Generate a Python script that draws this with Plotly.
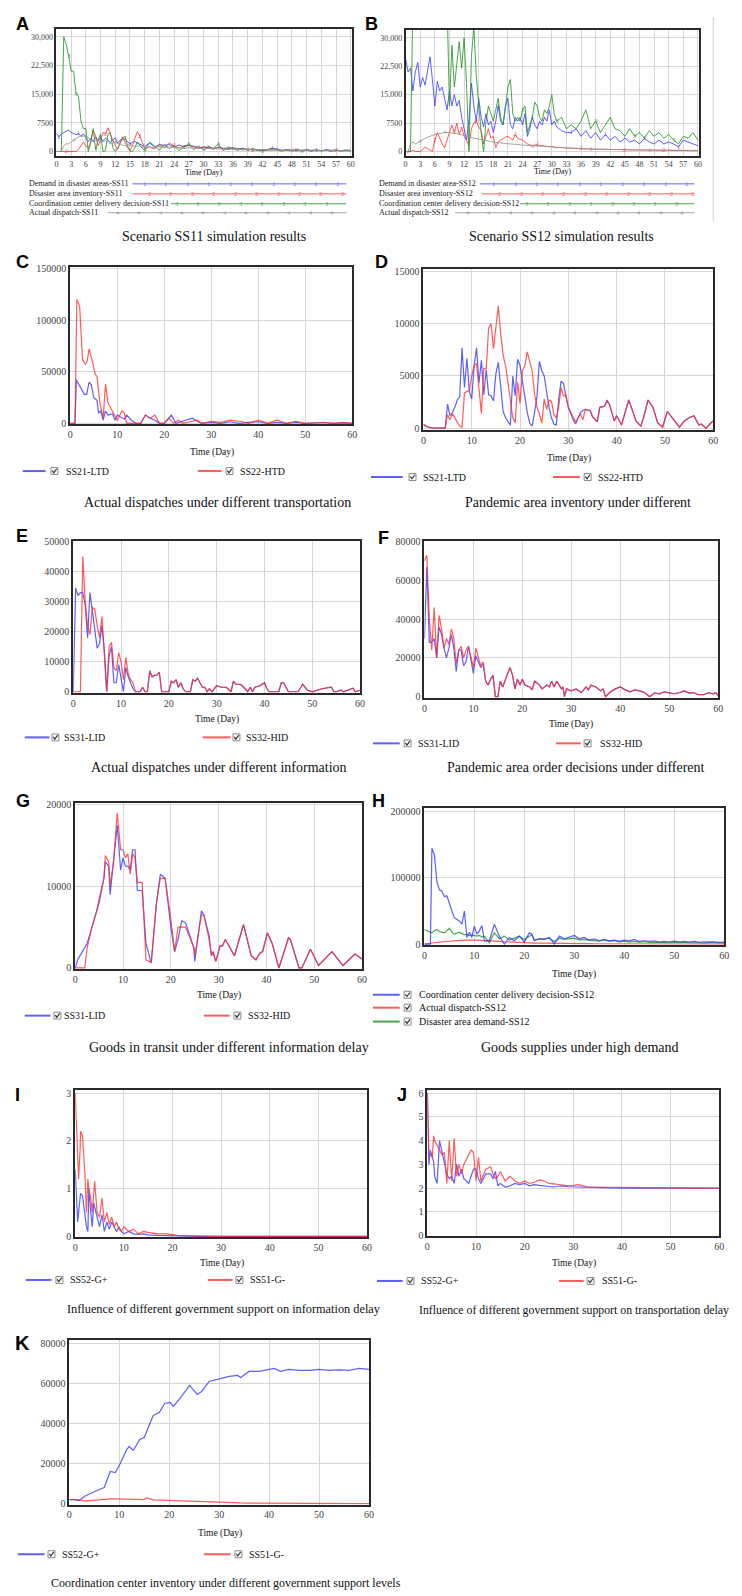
import plotly.graph_objects as go

W, H = 742, 1596

# ===================== DATA =====================
# ---- Panel A : Scenario SS11 ----
A_t = [0,0.5,1,1.5,2,2.5,3,3.5,4,4.5,5,5.5,6,6.5,7,7.5,8,8.5,9,9.5,10,10.5,11,11.5,12,12.5,13,13.5,14,14.5,15,15.5,16,16.5,17,17.5,18,19,20,21,22,23,24,25,26,27,28,29,30,31,32,33,34,35,36,37,38,39,40,41,42,43,44,45,46,47,48,49,50,51,52,53,54,55,56,57,58,59,60]
A_demand = [4800,3800,4600,5000,5200,5600,5000,4800,4400,4700,4000,4600,3500,2600,3400,2500,3800,2800,3600,2800,3500,3000,2400,3000,3600,2200,3000,3300,3200,2600,2000,2400,2600,2200,1900,1600,1300,2200,1200,1800,1600,1800,1200,1700,1200,1600,1300,1100,1000,1200,800,1100,800,900,1000,700,800,500,600,300,500,400,800,700,300,500,300,500,200,500,300,400,200,500,300,400,200,400,300]
A_inventory = [0,0,0,0,0,0,0,0,0,500,1500,2500,1500,800,2500,5500,4000,1500,3000,5000,4500,6200,4500,3000,1500,500,2500,3800,2500,1000,200,1500,3500,5200,4000,2500,800,1200,600,2000,1000,2200,1500,800,1500,1600,1200,800,1300,1000,600,1100,700,500,900,600,400,700,300,500,200,400,300,500,200,300,100,300,200,300,100,300,200,300,100,300,200,300,200]
A_coord = [0,0,0,30000,28000,25000,21000,21000,15000,14500,8000,6000,6000,0,2500,6000,500,3000,4500,0,200,4500,5000,1000,0,800,2000,3500,4000,1500,0,0,1000,2500,1500,800,200,2500,1500,300,1800,800,1500,200,1200,2000,500,1500,300,1200,800,2000,200,1000,700,300,900,200,800,300,100,600,900,300,100,500,200,400,100,300,100,400,100,300,100,300,100,200,100]
A_actual = [0,0,0,1500,2000,2000,2500,3000,3500,3800,4000,4000,4200,3500,3000,3000,3000,2700,2500,2600,2800,2400,2000,2200,2500,2100,1800,1600,1500,1700,1800,1500,1200,1400,1500,1200,1000,1200,1000,1300,1000,1200,900,1100,800,1000,800,900,700,750,800,700,600,650,700,600,500,500,500,450,400,450,500,400,300,350,400,350,300,300,300,280,250,280,300,250,200,200,200]

# ---- Panel B : Scenario SS12 ----
B_t = [0,0.5,1,1.5,2,2.5,3,3.5,4,4.5,5,5.5,6,6.5,7,7.5,8,8.5,9,9.5,10,10.5,11,11.5,12,12.5,13,13.5,14,14.5,15,15.5,16,16.5,17,17.5,18,18.5,19,19.5,20,20.5,21,21.5,22,22.5,23,23.5,24,24.5,25,25.5,26,26.5,27,27.5,28,28.5,29,29.5,30,30.5,31,32,33,34,35,36,37,38,39,40,41,42,43,44,45,46,47,48,49,50,51,52,53,54,55,56,57,58,59,60]
B_demand = [24500,21000,22000,16000,21000,23500,17000,19500,17500,21000,25000,19000,12000,18500,16000,17000,14000,11000,16000,12000,15000,12000,13500,9000,6000,3000,8000,18000,12000,8000,14000,9000,6500,10000,7000,8000,5000,8000,12000,8000,7000,12000,14000,7000,6000,9000,8000,9000,7000,10000,4000,6000,9000,7000,6000,8000,7000,9000,8000,11000,7000,8000,6500,5500,5000,5000,6000,4000,5500,3500,5000,3000,4500,3000,4000,2500,3500,2500,3000,2000,3500,2500,2000,3000,2000,2500,2000,1200,3000,2500,2000,1500]
B_inventory = [0,0,0,300,0,0,0,500,1200,800,500,0,3000,5000,3500,2000,1000,3000,5500,7000,5000,7500,4500,6500,4000,3000,1500,6000,7500,8000,6500,5500,2000,4000,6000,3500,4000,1000,2500,3000,3500,3800,4000,3500,3000,4500,3500,3200,3000,2500,2000,1800,1500,1700,1800,1600,1500,1400,1200,1250,1300,1100,1000,1100,900,900,800,800,700,700,600,600,550,500,500,500,450,400,400,400,350,300,300,300,300,300,250,200,200,200,200,200]
B_coord = [0,0,0,40000,40000,40000,40000,40000,40000,40000,40000,40000,40000,40000,40000,40000,40000,40000,12000,28000,17000,24000,29000,22000,30000,18000,0,25000,33000,20000,12000,5000,0,8000,12000,10000,8000,11000,14000,9000,7000,12000,17000,19000,10000,8000,9000,8000,11000,12000,5000,7000,9000,13000,12000,9000,8000,11000,10000,12000,15000,10000,8000,9000,6000,7000,6000,8000,11000,6000,8000,5000,7000,9000,6000,5500,4000,6000,4000,5000,3500,5500,4000,5000,3500,4500,3000,2000,4000,3500,5000,3000]
B_actual = [0,0,2000,2500,2000,2300,2800,3100,3500,3800,4000,4200,4500,4600,4800,4900,5000,5000,5000,4900,4800,4700,4500,4400,4200,4100,4000,3700,3500,3400,3200,3100,3000,2900,2700,2600,2500,2400,2300,2250,2200,2100,2050,2000,2000,1900,1850,1800,1700,1650,1600,1550,1500,1450,1400,1350,1300,1250,1200,1150,1100,1050,1000,950,900,850,800,700,700,650,600,600,550,550,520,500,500,480,450,430,400,400,380,360,340,320,300,300,300,300,300,300]

# ---- Panel C : actual dispatches, transportation delay ----
C_t = [0,1,1.3,1.8,2.2,3,3.5,4,4.5,5,5.7,6,6.5,7,7.5,8,9,9.5,10,11,11.5,12,13,14,15,16,17,18,19,20,21,21.5,22.5,24,26,27,28,30,32,34,36,38,40,42,44,46,48,50,52,54,56,58,60]
C_ltd = [0,0,42000,38000,35000,28000,28000,40000,37000,25000,22000,10000,12000,3000,12000,8000,9000,3000,8000,5000,4000,8000,3000,0,0,8000,5000,3000,0,0,5000,8000,0,2000,5000,2000,0,1000,0,1500,0,1000,1500,0,1000,0,1000,0,500,800,0,500,0]
C2_t = [0,1,1.4,2,2.6,3.2,3.6,4,4.7,5.3,5.7,6.3,7,7.5,8,9,10,11,11.5,12,13,14,15,16,17,18,19,20,21,22,23,24,26,27,28,30,32,34,36,38,40,42,44,46,48,50,52,54,56,58,60]
C_htd = [0,0,120000,113000,62000,57000,60000,72000,60000,48000,45000,20000,5000,38000,20000,12000,3000,12000,10000,0,0,0,0,8000,5000,8000,0,0,5000,0,3000,0,2000,3000,0,2000,1000,3000,2000,0,3000,0,3000,0,2000,0,500,1000,0,1000,0]

# ---- Panel D : pandemic area inventory, transportation delay ----
D_t = [0,1,2,4.5,5,5.5,6,6.5,7,7.5,8,8.5,9,9.5,10,10.5,11,11.5,12,12.5,13,13.5,14,14.5,15,15.5,16,16.5,17,18,18.5,19,19.5,20,20.5,21,21.5,22,22.5,23,23.5,24,24.5,25,25.5,26,26.5,27,27.5,28,28.5,29,29.5,30,31,31.5,32.5,33,33.5,34.5,35,36,36.5,37.5,38,38.5,39.5,40,41,41.5,42,42.5,43.5,44,45,45.5,46.5,47.5,48.5,49.5,50.5,51.5,53,54,55,56,57,57.5,58.5,59.5,60]
D_ltd = [300,100,0,0,2300,1200,1500,2000,2700,3000,7700,3900,6700,3500,2800,6000,7700,4300,6500,3200,5600,3200,3100,2600,5200,6300,4000,1600,1000,300,5000,3100,6600,6000,4500,3000,1500,500,200,1500,3000,6400,5500,5000,3500,2000,1000,400,300,2800,4500,4300,3000,2000,800,400,1500,1700,1800,1700,1100,600,2000,2100,2700,2300,700,1200,300,1100,1700,2700,1400,700,200,900,2700,2000,500,100,1600,1000,100,700,1000,1200,300,400,0,500,700]
D_htd = [400,100,0,0,1300,800,1400,1000,600,200,100,3400,3500,3600,5000,6000,6200,3400,1400,5700,5700,9600,10000,7600,9500,11700,9000,7000,6000,2400,1000,500,4400,2400,5500,6000,7300,6400,5500,3300,2000,1400,500,2800,1800,2700,2600,1300,1000,2000,3900,3100,3200,2000,1000,600,1400,800,1800,1700,1100,600,2000,2100,2600,2300,700,1200,300,1100,1700,2700,1400,700,200,900,2700,2000,500,100,1600,1000,100,700,1000,1200,300,400,0,500,700]

# ---- Panel E : actual dispatches, information delay ----
E_t = [0,0.5,1,1.5,2,2.5,3,3.5,4,4.5,5,5.5,6,6.5,7,7.5,8,8.5,9,9.5,10,10.5,11,11.5,12,12.5,13,14,14.5,15,15.5,16,16.5,17,17.5,18,18.5,20,20.5,21,21.5,22,22.5,23,23.5,24.5,25,25.5,26,27,27.5,28,28.5,29,30,31,32,33,33.5,34,35,36,36.5,37,37.5,38,39,40,40.5,41,43,43.5,44,45,47,48,49,50,51,52,54,54.5,55,56,56.5,58,58.5,59,60]
E_lid = [0,34500,32000,33000,33000,29000,18000,33000,27000,21000,14500,16000,22000,14000,0,12000,15000,3000,3000,9000,5000,0,8000,5000,3000,1000,0,0,1500,0,0,7000,5000,5500,5500,6500,0,0,3500,3000,4000,1500,3000,1000,0,0,4000,3500,4500,1500,1500,0,1000,0,2000,1500,1500,0,3500,2500,2500,1000,0,1500,0,1500,2000,3000,1000,0,0,3000,3000,0,0,2500,500,0,500,1000,1500,0,0,500,0,1000,1200,0,500]
E_hid = [0,0,0,0,45000,30000,22000,19000,28000,27500,22000,18000,25000,14000,0,15000,16500,8000,7000,13000,10000,4000,11500,6000,4000,3000,0,0,1500,0,0,7000,5000,5500,5500,6500,0,0,3500,3000,4000,1500,3000,1000,0,0,4000,3500,4500,1500,1500,0,1000,0,2000,1500,1500,0,3500,2500,2500,1000,0,1500,0,1500,2000,3000,1000,0,0,3000,3000,0,0,2500,500,0,500,1000,1500,0,0,500,0,1000,1200,0,500]

# ---- Panel F : pandemic area order decisions, information delay ----
F_t = [0,0.5,1,1.5,2,2.5,3,3.5,4,4.5,5,5.5,6,6.5,7,7.5,8,8.5,9,9.5,10,10.5,11,11.5,12,12.5,13,13.5,14,14.5,15,15.5,16,16.5,17,17.5,18,18.5,19,19.5,20,20.5,21.5,22,22.5,23.5,24,25,25.5,26,26.5,27,28,28.3,28.6,29,30,31,32,33,33.5,34,35,36,36.5,37,38,39,40,41,42,43,44,45,46,47,48,49,50,51,52,53,54,55,56,57,58,59,59.5,60]
F_lid = [30000,67000,28000,28000,30000,20000,36000,32000,25000,20000,25000,32000,25000,13000,24000,24000,16000,18000,26000,18000,12000,21000,18000,15000,17000,8000,6000,9000,11000,0,0,8000,5000,9000,12000,15000,11000,4000,9000,6000,9000,6000,5000,3500,8000,6000,4000,6000,5000,8000,5000,8000,4000,5000,0,4000,3000,4000,2000,5000,3500,6000,5000,3000,4000,0,2500,4000,5000,3500,2500,3500,3000,2000,0,2000,1500,2500,2000,1500,2000,3000,2000,2000,1000,1000,2000,1500,2000,500]
F_hid = [70000,73000,40000,24000,46000,20000,42000,35000,25000,30000,27000,35000,30000,17000,24000,26000,20000,24000,26000,20000,15000,25000,20000,16000,18000,8000,6000,9000,11000,0,0,8000,5000,9000,12000,15000,11000,4000,9000,6000,9000,6000,5000,3500,8000,6000,4000,6000,5000,8000,5000,8000,4000,5000,0,4000,3000,4000,2000,5000,3500,6000,5000,3000,4000,0,2500,4000,5000,3500,2500,3500,3000,2000,0,2000,1500,2500,2000,1500,2000,3000,2000,2000,1000,1000,2000,1500,2000,500]

# ---- Panel G : goods in transit, information delay ----
G_t = [0,0.5,1.5,2,2.5,3.5,4.5,5,6,6.3,7,7.3,8,8.8,9.5,10,10.5,11,11.5,12,12.5,13,14,14.8,15.9,16.5,17,17.8,18.8,20,20.8,21.5,22.3,23.1,24.8,25,26.4,26.9,28,28.5,28.8,29.4,30.3,30.8,31.4,33.3,35.2,36.8,37.8,38.6,39.2,40.2,41.2,42.6,44.6,45,46.8,47.4,49.2,50.9,53.7,56,58.5,60]
G_lid = [0,1000,2000,2500,3000,5000,7000,8000,11000,13000,12500,9000,13000,17500,12000,13500,12500,12500,12000,14500,14500,9500,9500,3000,600,5000,8000,11500,11000,5000,2000,3500,5800,5500,2500,800,7000,6500,4000,1500,2000,800,2700,2700,3500,1500,5300,1500,1000,1800,2000,4300,3000,0,3700,3500,0,0,2300,300,2000,300,1700,1100]
G_hid = [0,0,0,0,2500,5000,7000,8500,11000,13800,13000,10000,13000,19000,14500,14500,13500,14000,11500,14000,13500,10500,10500,1000,700,5000,8000,11000,11000,6000,2000,5000,5000,5000,2500,1500,6500,6500,3500,1500,2000,800,2700,2700,3500,1500,5300,1500,1000,1800,2000,4300,3000,0,3700,3500,0,0,2300,300,2000,300,1700,1100]

# ---- Panel H : goods supplies under high demand ----
H_t = [0,1,1.2,1.5,2,2.5,3,3.5,4,4.5,5,5.5,6,7,7.5,8,8.5,9,9.5,10,10.5,11,11.5,12,13,14,15,16,17,18,19,20,21,21.5,22,23,24,25,26,27,28,29,30,31,32,33,34,35,36,37,38,39,40,41,42,43,44,45,46,47,48,49,50,51,52,53,54,55,56,57,58,59,60]
H_coord = [0,0,0,145000,135000,95000,82000,80000,72000,73000,60000,50000,40000,35000,30000,50000,10000,18000,10000,27000,15000,20000,28000,5000,5000,30000,12000,0,10000,5000,12000,3000,17000,15000,5000,8000,7000,10000,0,12000,8000,10000,13000,8000,10000,6000,8000,5000,7000,5000,6000,4000,6000,5000,7000,4000,5000,4000,5000,3000,4000,3500,4500,3000,4000,3000,4000,2500,3500,3000,3500,2500,3000,3500,3000]
H_actual = [0,500,800,1200,2000,2500,3000,3300,3700,4000,4300,4600,5000,5500,5800,6000,6000,6000,6000,6000,5900,5800,5600,5400,5000,4500,4000,3500,3000,2500,2200,2000,1800,1700,1600,1500,1300,1200,1100,1000,900,800,700,650,600,550,500,450,400,380,350,320,300,280,260,240,220,200,180,160,150,140,130,120,110,100,100,100,100,100,100,100,100,100,100]
H_demand = [22000,18000,17500,17000,20000,22000,19000,18000,17000,20000,24000,18000,15000,18000,16000,14000,15000,13000,14000,13000,12000,13000,11000,12000,2000,17000,8000,12000,6000,9000,12000,7000,12000,14000,6000,8000,8000,9000,4000,9000,7000,8000,9000,6500,7000,5500,5000,5000,6000,4500,5000,3500,4500,3000,4000,3000,3500,2500,3000,2500,3000,2000,3000,2500,2000,2500,2000,2000,1500,2500,2000,2000,1500]

# ---- Panel I : government support vs information delay ----
I_t = [0,0.5,0.7,1,1.1,1.5,2,2.3,2.6,2.8,3.2,3.5,3.8,4,4.5,5,5.5,6,6.5,7,7.5,8,8.5,9,9.5,10,11,12,13,14,15,17,19,21,25,30,40,50,60]
I_gplus = [1.4,0.3,0.5,0.9,0.9,0.85,0.4,0.2,0.1,1.0,0.5,0.2,0.7,0.6,0.4,0.2,0.45,0.1,0.3,0.15,0.3,0.2,0.1,0.2,0.1,0.05,0.1,0.05,0.04,0.05,0.03,0.02,0.01,0.01,0,0,0,0,0]
I_gminus = [3.0,1.6,1.2,1.8,2.2,2.1,1.3,0.5,1.2,1.0,0.8,0.5,1.0,1.15,0.5,0.4,0.8,0.3,0.5,0.25,0.4,0.2,0.3,0.15,0.1,0.2,0.1,0.15,0.05,0.1,0.08,0.05,0.05,0.02,0.01,0,0,0,0]

# ---- Panel J : government support vs transportation delay ----
J_t = [0,0.3,0.6,1,1.3,1.5,2,2.5,3,3.5,4,4.5,5,5.5,6,6.5,7,7.5,8,8.5,9,9.5,10,10.5,11,12,13,13.5,14,14.5,15,16,17,18,19,20,21,22,23,24,25,26,27,28,29,30,31,33,35,36,40,45,50,55,60]
J_gplus = [6.0,3.0,3.6,3.3,3.1,2.5,2.2,4.0,3.5,3.0,2.6,2.4,2.5,2.2,3.0,2.5,2.8,2.4,2.3,2.2,2.5,2.8,2.8,2.4,2.2,2.6,2.6,2.4,2.7,2.1,2.2,2.05,2.1,2.2,2.15,2.2,2.1,2.15,2.12,2.1,2.08,2.05,2.08,2.1,2.06,2.05,2.04,2.03,2.02,2.02,2.0,2.0,2.0,2.0,2.0]
J_gminus = [6.0,3.5,3.4,3.3,4.2,4.0,3.8,3.6,3.4,3.5,2.2,4.0,2.3,4.1,2.5,3.0,2.6,3.0,3.2,3.4,3.6,3.5,2.3,3.3,2.3,2.8,2.9,2.6,2.4,2.5,2.7,2.3,2.5,2.3,2.2,2.3,2.2,2.25,2.35,2.3,2.2,2.18,2.15,2.12,2.1,2.12,2.15,2.05,2.05,2.05,2.03,2.02,2.01,2.0,2.0]

# ---- Panel K : coordination center inventory vs government support ----
K_t = [0,1,2,3,4.2,5,6.5,7,8.2,9.2,10.2,11.5,12,12.8,14.1,15,15.5,16.8,18,19.1,20.2,20.8,22,24.1,25.6,26.5,28,30.4,32,33.7,34.3,36,38,39,41,42.3,44,46,48,50,52,54,56,58,60]
K_gplus = [2000,2000,1500,3500,5000,6000,7500,8000,16000,15500,20000,27000,28500,26500,32000,33000,36000,44000,45500,50000,50500,48500,52000,59000,54500,56000,61000,62500,63500,64000,63000,66000,66000,66500,67500,66000,67000,66500,66500,67000,66500,66800,66500,67500,67000]
K_gminus = [2000,2100,2000,1200,1500,1800,2100,2200,2300,2300,2300,2200,2200,2100,2000,2000,2800,1800,1700,1600,1500,1300,1100,900,800,700,600,500,400,300,300,250,200,150,100,80,60,40,20,10,0,0,0,0,0]

TIME_LABEL = "Time (Day)"

# ===================== STYLE =====================
BLUE = "rgba(50,50,255,0.78)"
RED = "rgba(255,45,45,0.78)"
GREEN = "rgba(40,150,40,0.85)"
GRAY = "rgba(150,150,150,0.85)"
SERIF = "Liberation Serif"
SANS = "Liberation Sans"

fig = go.Figure()
annotations = []
shapes = []


def px_x(x):
    return x / W


def px_y(y):
    return 1 - y / H


def ann(x, y, text, size, anchor="center", family=SERIF, color="#111", bold=False):
    if bold:
        text = "<b>" + text + "</b>"
    annotations.append(dict(x=px_x(x), y=px_y(y), xref="paper", yref="paper", text=text,
                            showarrow=False, xanchor=anchor, yanchor="middle",
                            font=dict(family=family, size=size, color=color)))


def hline(x0, x1, y, color, width=2):
    shapes.append(dict(type="line", xref="paper", yref="paper", x0=px_x(x0), x1=px_x(x1),
                       y0=px_y(y), y1=px_y(y), line=dict(color=color, width=width)))


def checkbox(cx, cy):
    shapes.append(dict(type="rect", xref="paper", yref="paper",
                       x0=px_x(cx - 3.5), x1=px_x(cx + 3.5), y0=px_y(cy + 3.5), y1=px_y(cy - 3.5),
                       line=dict(color="#8a8a8a", width=1), fillcolor="white"))
    path = "M %.5f %.5f L %.5f %.5f L %.5f %.5f" % (
        px_x(cx - 2.2), px_y(cy - 0.5), px_x(cx - 0.6), px_y(cy + 1.8), px_x(cx + 2.3), px_y(cy - 2.3))
    shapes.append(dict(type="path", xref="paper", yref="paper", path=path,
                       line=dict(color="#333", width=1.2)))


axis_n = [0]


def panel(box, xr, yr, xtv, ytv, yttext=None, fs=10, lw=1.8):
    axis_n[0] += 1
    n = axis_n[0]
    L, T, R, B = box
    common = dict(showgrid=True, gridcolor="#d6d6d6", gridwidth=1, zeroline=False,
                  showline=True, linecolor="#2a2a2a", linewidth=lw, mirror=True,
                  ticks="", fixedrange=True, tickformat="d",
                  tickfont=dict(family=SERIF, size=fs, color="#444"))
    xa = dict(common, domain=[px_x(L), px_x(R)], range=xr, tickvals=xtv,
              anchor="y%d" % n)
    ya = dict(common, domain=[px_y(B), px_y(T)], range=yr, tickvals=ytv,
              anchor="x%d" % n)
    if yttext is not None:
        ya["ticktext"] = yttext
    fig.update_layout(**{"xaxis%d" % n: xa, "yaxis%d" % n: ya})
    return n


def line(n, t, v, color, width=1.2, marks=None, label=None):
    kw = {}
    mode = "lines"
    if marks is not None:
        txt = [""] * len(t)
        for m in marks:
            i = min(range(len(t)), key=lambda k: abs(t[k] - m))
            txt[i] = label
        kw = dict(text=txt, textposition="middle center",
                  textfont=dict(family=SERIF, size=7, color=color))
        mode = "lines+text"
    fig.add_trace(go.Scatter(x=t, y=v, mode=mode, xaxis="x%d" % n, yaxis="y%d" % n,
                             line=dict(color=color, width=width), showlegend=False,
                             hoverinfo="skip", cliponaxis=True, **kw))


def legend_row(y, x0, x1, cb, tx, text, color, size=10):
    hline(x0, x1, y, color, 2)
    checkbox(cb, y)
    ann(tx, y, text, size, anchor="left")


# ---------------- Panel A ----------------
x3 = list(range(0, 61, 3))
yAB = [0, 7500, 15000, 22500, 30000]
yABt = ["0", "7500", "15,000", "22,500", "30,000"]
nA = panel((54, 24, 353, 152), [0, 60.3], [-1200, 32100], x3, yAB, yABt, fs=8, lw=1.5)
line(nA, A_t, A_demand, BLUE, 1, marks=[0.5, 4.5, 9, 15, 26, 35, 44, 53], label="1")
line(nA, A_t, A_inventory, RED, 1, marks=[2, 10, 17, 24, 31, 40, 49, 57], label="2")
line(nA, A_t, A_coord, GREEN, 1, marks=[2.5, 4, 8, 18, 27, 33, 42, 50], label="3")
line(nA, A_t, A_actual, GRAY, 1, marks=[3.5, 12, 21, 30, 39, 48], label="4")
ann(203, 169, TIME_LABEL, 8)

# ---------------- Panel B ----------------
nB = panel((407, 25, 704, 152), [0, 60.3], [-1200, 32100], x3, yAB, yABt, fs=8, lw=1.5)
line(nB, B_t, B_demand, BLUE, 1, marks=[13, 19, 26, 34, 41, 49, 56], label="1")
line(nB, B_t, B_inventory, RED, 1, marks=[0.5, 6, 10, 14.5, 22.5, 27, 36, 45, 53], label="2")
line(nB, B_t, B_coord, GREEN, 1, marks=[15, 24, 31, 39, 47, 55], label="3")
line(nB, B_t, B_actual, GRAY, 1, marks=[3, 8, 26, 38, 50], label="4")
ann(556, 168, TIME_LABEL, 8)
shapes.append(dict(type="line", xref="paper", yref="paper", x0=px_x(718), x1=px_x(718),
                   y0=px_y(12), y1=px_y(217), line=dict(color="#cfcfcf", width=1)))


def vensim_legend(rows, xt, step=65 / 3):
    for (y, text, lstart, lend, mstart, color, num) in rows:
        ann(xt, y, text, 8, anchor="left", color="#222")
        hline(lstart, lend, y, color, 1)
        m = mstart
        while m < lend - 2:
            ann(m, y, num, 6.5, color=color)
            m += step


vensim_legend([
    (180, "Demand in disaster areas-SS11", 131, 347, 143, BLUE, "1"),
    (190, "Disaster area inventory-SS11", 131, 347, 148, RED, "2"),
    (200, "Coordination center delivery decision-SS11", 170, 347, 175, GREEN, "3"),
    (209, "Actual dispatch-SS11", 106, 347, 116, GRAY, "4"),
], 24)
vensim_legend([
    (180, "Demand in disaster area-SS12", 482, 699, 496, BLUE, "1"),
    (190, "Disaster area inventory-SS12", 484, 699, 502, RED, "2"),
    (200, "Coordination center delivery decision-SS12", 523, 699, 529, GREEN, "3"),
    (209, "Actual dispatch-SS12", 457, 699, 470, GRAY, "4"),
], 378)
ann(213, 233, "Scenario SS11 simulation results", 14)
ann(565, 233, "Scenario SS12 simulation results", 14)

x10 = list(range(0, 61, 10))

# ---------------- Panel C ----------------
nC = panel((68, 264, 353, 422), [0, 60], [-1000, 151000], x10, [0, 50000, 100000, 150000])
line(nC, C_t, C_ltd, BLUE)
line(nC, C2_t, C_htd, RED)
ann(211, 450, TIME_LABEL, 9.5)
legend_row(469, 20, 43, 52, 62, "SS21-LTD", BLUE)
legend_row(469, 197, 221, 229, 238, "SS22-HTD", RED)
ann(217, 501, "Actual dispatches under different transportation", 14)

# ---------------- Panel D ----------------
nD = panel((425, 266, 718, 428), [0, 60], [-200, 15200], x10, [0, 5000, 10000, 15000])
line(nD, D_t, D_ltd, BLUE)
line(nD, D_t, D_htd, RED)
ann(572, 456, TIME_LABEL, 9.5)
legend_row(475, 372, 404, 414, 423, "SS21-LTD", BLUE)
legend_row(475, 556, 583, 591, 599, "SS22-HTD", RED)
ann(581, 501, "Pandemic area inventory under different", 14)

# ---------------- Panel E ----------------
nE = panel((71, 539, 361, 692), [0, 60], [-300, 50300], x10, [0, 10000, 20000, 30000, 40000, 50000])
line(nE, E_t, E_lid, BLUE)
line(nE, E_t, E_hid, RED)
ann(216, 719, TIME_LABEL, 9.5)
legend_row(737, 22, 47, 53, 60, "SS31-LID", BLUE)
legend_row(737, 202, 230, 236, 244, "SS32-HID", RED)
ann(218, 767, "Actual dispatches under different information", 14)

# ---------------- Panel F ----------------
nF = panel((426, 539, 723, 697), [0, 60], [-500, 80500], x10, [0, 20000, 40000, 60000, 80000])
line(nF, F_t, F_lid, BLUE)
line(nF, F_t, F_hid, RED)
ann(574, 724, TIME_LABEL, 9.5)
legend_row(743, 374, 401, 409, 418, "SS31-LID", BLUE)
legend_row(743, 559, 584, 591, 601, "SS32-HID", RED)
ann(579, 767, "Pandemic area order decisions under different", 14)

# ---------------- Panel G ----------------
nG = panel((73, 803, 363, 970), [0, 60], [-120, 20240], x10, [0, 10000, 20000])
line(nG, G_t, G_lid, BLUE)
line(nG, G_t, G_hid, RED)
ann(218, 997, TIME_LABEL, 9.5)
legend_row(1017, 22, 48, 55, 60, "SS31-LID", BLUE)
legend_row(1017, 203, 229, 237, 246, "SS32-HID", RED)
ann(228, 1049, "Goods in transit under different information delay", 14)

# ---------------- Panel H ----------------
nH = panel((426, 808, 729, 946), [0, 60], [-1500, 206000], x10, [0, 100000, 200000])
line(nH, H_t, H_demand, GREEN)
line(nH, H_t, H_actual, RED)
line(nH, H_t, H_coord, BLUE)
ann(577, 976, TIME_LABEL, 9.5)
legend_row(996, 374, 401, 409, 419, "Coordination center delivery decision-SS12", BLUE)
legend_row(1009, 374, 401, 409, 419, "Actual dispatch-SS12", RED)
legend_row(1023, 374, 401, 409, 419, "Disaster area demand-SS12", GREEN)
ann(583, 1049, "Goods supplies under high demand", 14)

# ---------------- Panel I ----------------
nI = panel((73, 1092, 368, 1240), [0, 60], [-0.02, 3.06], x10, [0, 1, 2, 3])
line(nI, I_t, I_gplus, BLUE)
line(nI, I_t, I_gminus, RED)
ann(221, 1266, TIME_LABEL, 9.5)
legend_row(1283, 23, 49, 57, 66, "SS52-G+", BLUE)
legend_row(1283, 207, 232, 239, 248, "SS51-G-", RED)
ann(63, 1312, "Influence of different government support on information delay", 12.3, anchor="left")

# ---------------- Panel J ----------------
nJ = panel((429, 1092, 724, 1239), [0, 60], [-0.02, 6.12], x10, [0, 1, 2, 3, 4, 5, 6])
line(nJ, J_t, J_gplus, BLUE)
line(nJ, J_t, J_gminus, RED)
ann(577, 1266, TIME_LABEL, 9.5)
legend_row(1284, 378, 404, 412, 421, "SS52-G+", BLUE)
legend_row(1284, 562, 587, 594, 604, "SS51-G-", RED)
ann(419, 1313, "Influence of different government support on transportation delay", 11.8, anchor="left")

# ---------------- Panel K ----------------
nK = panel((67, 1343, 370, 1509), [0, 60], [-500, 81900], x10, [0, 20000, 40000, 60000, 80000])
line(nK, K_t, K_gplus, BLUE)
line(nK, K_t, K_gminus, RED)
ann(219, 1538, TIME_LABEL, 9.5)
legend_row(1559, 15, 42, 49, 58, "SS52-G+", BLUE)
legend_row(1559, 203, 230, 238, 247, "SS51-G-", RED)
ann(47, 1588, "Coordination center inventory under different government support levels", 12, anchor="left")

# ---------------- panel letters ----------------
for (lx, ly, letter, sz) in [(20, 19, "A", 18), (373, 19, "B", 18), (20, 259, "C", 18),
                             (383, 259, "D", 18), (19, 534, "E", 18), (385, 536, "F", 18),
                             (20, 801, "G", 18), (380, 801, "H", 18), (15, 1097, "I", 18),
                             (403, 1097, "J", 18), (20, 1346, "K", 20)]:
    ann(lx, ly, letter, sz, family=SANS, color="#000", bold=True)

fig.update_layout(width=W, height=H, autosize=False,
                  margin=dict(l=0, r=0, t=0, b=0, pad=0),
                  paper_bgcolor="white", plot_bgcolor="white",
                  showlegend=False, annotations=annotations, shapes=shapes)

fig.write_html("out.html")
